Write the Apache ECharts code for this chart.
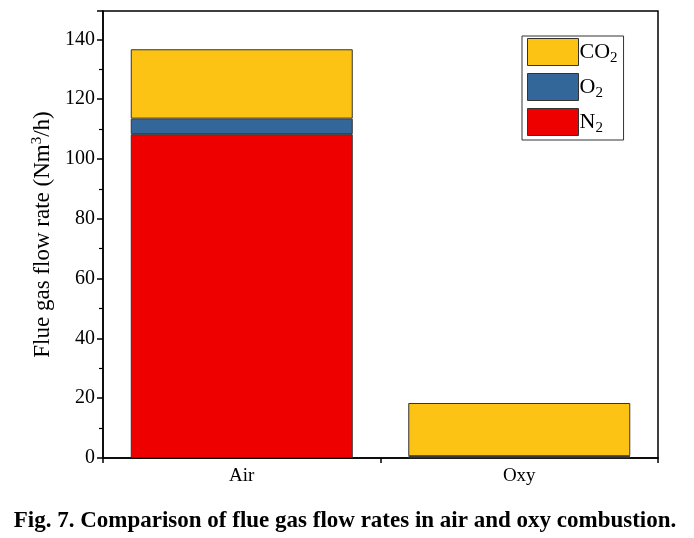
<!DOCTYPE html>
<html><head><meta charset="utf-8">
<script src="https://cdn.jsdelivr.net/npm/echarts@6/dist/echarts.min.js"></script>
<style>html,body{margin:0;padding:0;background:#fff}#c{width:694px;height:538px}</style>
</head><body><div id="c"></div>
<script>
const categories = ['Air', 'Oxy'];
const n2Values = [108.3, 0.2];
const o2Values = [5.2, 0.4];
const co2Values = [23.2, 17.8];
const yTicks = [0, 20, 40, 60, 80, 100, 120, 140];

const serif = '"Liberation Serif","Times New Roman",serif';
const chart = echarts.init(document.getElementById('c'));
const sub = {
  a: {fontFamily: serif, fontSize: 22, color: '#000'},
  s: {fontFamily: serif, fontSize: 15, color: '#000', verticalAlign: 'bottom', padding: [12, 0, 0, 0]}
};
chart.setOption({
  animation: false,
  backgroundColor: '#fff',
  grid: {left: 103, right: 36, top: 11, bottom: 80, show: true, borderColor: '#000', borderWidth: 1.5, containLabel: false},
  title: {
    text: 'Fig. 7. Comparison of flue gas flow rates in air and oxy combustion.',
    left: 340, top: 505, textAlign: 'center',
    textStyle: {fontFamily: serif, fontWeight: 'bold', fontSize: 23, color: '#000'}
  },
  legend: {
    orient: 'vertical', left: 522, top: 36,
    itemWidth: 51, itemHeight: 27, itemGap: 7,
    icon: 'rect',
    padding: [2, 6, 4, 5],
    borderColor: '#333', borderWidth: 1,
    data: ['CO2', 'O2', 'N2'],
    itemStyle: {borderColor: '#333', borderWidth: 1},
    formatter: function (name) { return '{a|' + name.slice(0, -1) + '}{s|2}'; },
    textStyle: {rich: sub, padding: [0, 0, 0, -4]}
  },
  xAxis: {
    type: 'category', data: categories,
    axisLine: {lineStyle: {color: '#000', width: 1.5}},
    axisTick: {show: true, inside: false, length: 5, lineStyle: {color: '#000', width: 1.5}},
    axisLabel: {fontFamily: serif, fontSize: 19, color: '#000', margin: 9}
  },
  yAxis: {
    type: 'value', min: 0, max: 149.5, interval: 20,
    name: 'Flue gas flow rate (Nm{sup|3}/h)', nameLocation: 'middle', nameGap: 45,
    nameTextStyle: {fontFamily: serif, fontSize: 23, color: '#000', rich: {sup: {fontFamily: serif, fontSize: 15, verticalAlign: 'top', padding: [0, 0, 12, 0], color: '#000'}}},
    axisLine: {show: true, lineStyle: {color: '#000', width: 1.5}},
    axisTick: {show: true, length: 6, lineStyle: {color: '#000', width: 1.5}},
    minorTick: {show: true, splitNumber: 2, length: 4, lineStyle: {color: '#000', width: 1.2}},
    splitLine: {show: false},
    axisLabel: {fontFamily: serif, fontSize: 20, color: '#000', margin: 8, showMaxLabel: false,
      formatter: function (v) { return yTicks.indexOf(v) >= 0 ? String(v) : ''; }}
  },
  series: [
    {name: 'N2', type: 'bar', stack: 't', data: n2Values, barWidth: '80%', itemStyle: {color: '#EE0000', borderColor: '#333', borderWidth: 1}},
    {name: 'O2', type: 'bar', stack: 't', data: o2Values, itemStyle: {color: '#336699', borderColor: '#333', borderWidth: 1}},
    {name: 'CO2', type: 'bar', stack: 't', data: co2Values, itemStyle: {color: '#FDC314', borderColor: '#333', borderWidth: 1}}
  ]
});
</script></body></html>
